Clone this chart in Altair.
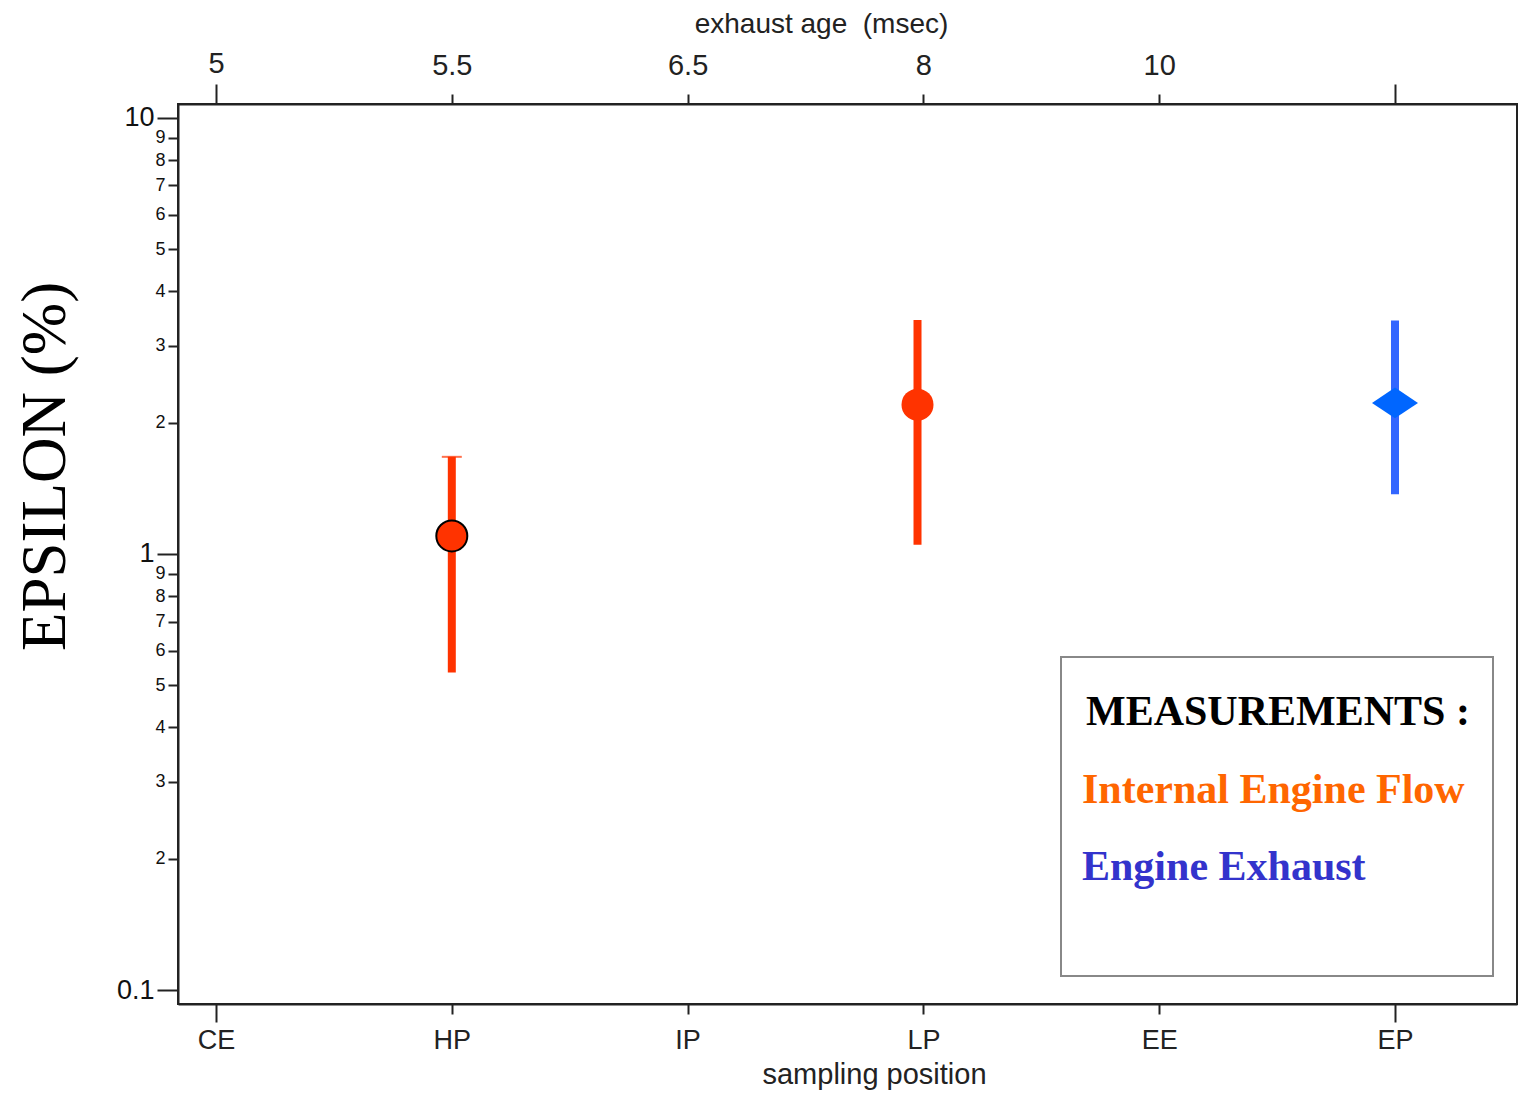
import altair as alt
import pandas as pd

# ---- data ----
positions = ["CE", "HP", "IP", "LP", "EE", "EP"]
exhaust_age = ["5", "5.5", "6.5", "8", "10", ""]

pt_pos = [1, 2.975, 5]                # HP, LP, EP (as drawn)
pt_val = [1.10, 2.20, 2.22]           # EPSILON (%)
pt_lo = [0.535, 1.05, 1.37]
pt_hi = [1.67, 3.44, 3.43]
pt_group = ["Internal Engine Flow", "Internal Engine Flow", "Engine Exhaust"]

bar_color = ["#FF3300", "#FF3300", "#3366FF"]
pt_color = ["#FF3300", "#FF3300", "#0066FF"]
pt_shape = ["circle", "circle", "M-1,0L0,-0.67L1,0L0,0.67Z"]
pt_size = [961, 1024, 2116]
pt_stroke_w = [2, 0, 0]

y_ticks = [0.1, 0.2, 0.3, 0.4, 0.5, 0.6, 0.7, 0.8, 0.9,
           1, 2, 3, 4, 5, 6, 7, 8, 9, 10]

leg_text = ["MEASUREMENTS :", "Internal Engine Flow", "Engine Exhaust"]
leg_color = ["#000000", "#FF6600", "#3333CC"]

df = pd.DataFrame({
    "pos": pt_pos, "val": pt_val, "lo": pt_lo, "hi": pt_hi,
    "group": pt_group, "bcol": bar_color, "pcol": pt_color,
    "shape": pt_shape, "size": pt_size, "sw": pt_stroke_w,
})

W, H = 1339, 900
xscale = alt.Scale(domain=[-0.1612, 5.5174], nice=False, zero=False)
yscale = alt.Scale(type="log", domain=[0.0929, 10.76], nice=False)

major = "datum.value == 1 || datum.value == 10 || datum.value == 0.1"
yaxis = alt.Axis(
    values=y_ticks,
    labelExpr="datum.value == 0.1 ? '0.1' : (datum.value < 1 ? format(datum.value * 10, '.0f') : format(datum.value, '.0f'))",
    labelFontSize={"condition": {"test": major, "value": 27}, "value": 18},
    tickSize={"condition": {"test": major, "value": 21}, "value": 10},
    labelPadding=3,
    labelColor="#111111",
    grid=False,
    title="EPSILON (%)",
    titleFont="Liberation Serif",
    titleFontSize=63,
    titleFontWeight="normal",
    titleColor="#000000",
    titleX=-114,
    titleY=362,
    titleAngle=-90,
    titleAlign="center",
    titleBaseline="alphabetic",
)

long_tick = "datum.value == 0 || datum.value == 5"

bottom_axis = alt.Axis(
    orient="bottom",
    values=[0, 1, 2, 3, 4, 5],
    labelExpr=f"{positions}[datum.value]",
    labelFontSize=27,
    labelBaseline="alphabetic",
    tickSize={"condition": {"test": long_tick, "value": 18}, "value": 10},
    labelPadding={"condition": {"test": long_tick, "value": 26}, "value": 34},
    grid=False,
    title="sampling position",
    titleFontSize=29,
    titleFontWeight="normal",
    titleX=696,
    titleY=79,
    titleBaseline="alphabetic",
)

top_axis = alt.Axis(
    orient="top",
    values=[0, 1, 2, 3, 4, 5],
    labelExpr=f"{exhaust_age}[datum.value]",
    labelFontSize=29,
    labelBaseline="alphabetic",
    tickSize={"condition": {"test": long_tick, "value": 20}, "value": 10},
    labelPadding={"condition": {"test": long_tick, "value": 12}, "value": 20},
    grid=False,
    title="exhaust age\u00a0 (msec)",
    titleFontSize=28,
    titleFontWeight="normal",
    titleX=643,
    titleY=-72,
    titleBaseline="alphabetic",
)

base = alt.Chart(df)

bars = base.mark_rule(strokeWidth=8).encode(
    x=alt.X("pos:Q", scale=xscale, axis=bottom_axis),
    y=alt.Y("lo:Q", scale=yscale, axis=yaxis),
    y2="hi:Q",
    color=alt.Color("bcol:N", scale=None),
)

cap = base.transform_filter("datum.pos == 1").mark_tick(
    orient="horizontal", thickness=2, size=20, color="#FF3300", opacity=0.7
).encode(
    x=alt.X("pos:Q", scale=xscale, axis=None),
    y=alt.Y("hi:Q", scale=yscale, axis=yaxis),
)

points = base.mark_point(filled=True, opacity=1, stroke="black").encode(
    x=alt.X("pos:Q", scale=xscale, axis=top_axis),
    y=alt.Y("val:Q", scale=yscale, axis=yaxis),
    fill=alt.Fill("pcol:N", scale=None),
    shape=alt.Shape("shape:N", scale=None),
    size=alt.Size("size:Q", scale=None),
    strokeWidth=alt.StrokeWidth("sw:Q", scale=None),
)

legend_box = alt.Chart(pd.DataFrame({"k": [0]})).mark_rect(
    fill="white", stroke="#888888", strokeWidth=2
).encode(
    x=alt.value(883), x2=alt.value(1315), y=alt.value(553), y2=alt.value(872)
)

leg_xy = [(908, 621), (904, 699), (904, 776)]
legend_layers = []
for t, c, (px, py) in zip(leg_text, leg_color, leg_xy):
    legend_layers.append(
        alt.Chart(pd.DataFrame({"k": [0]})).mark_text(
            align="left", baseline="alphabetic", font="Liberation Serif",
            fontSize=42, fontWeight="bold", color=c, text=t
        ).encode(x=alt.value(px), y=alt.value(py))
    )

chart = alt.layer(bars, cap, points, legend_box, *legend_layers).resolve_axis(
    x="independent"
).properties(
    width=W, height=H,
    autosize=alt.AutoSizeParams(type="none"),
    padding={"left": 170, "top": 96, "right": 1, "bottom": 86},
).configure_view(
    stroke="#222222", strokeWidth=2
).configure_axis(
    domainColor="#222222", domainWidth=2,
    tickColor="#222222", tickWidth=2,
    labelColor="#222222", titleColor="#222222",
    labelFont="Liberation Sans", titleFont="Liberation Sans",
    labelFlush=False, labelOverlap=False,
)

chart.save("out.html", embed_options={"renderer": "svg", "actions": False})
